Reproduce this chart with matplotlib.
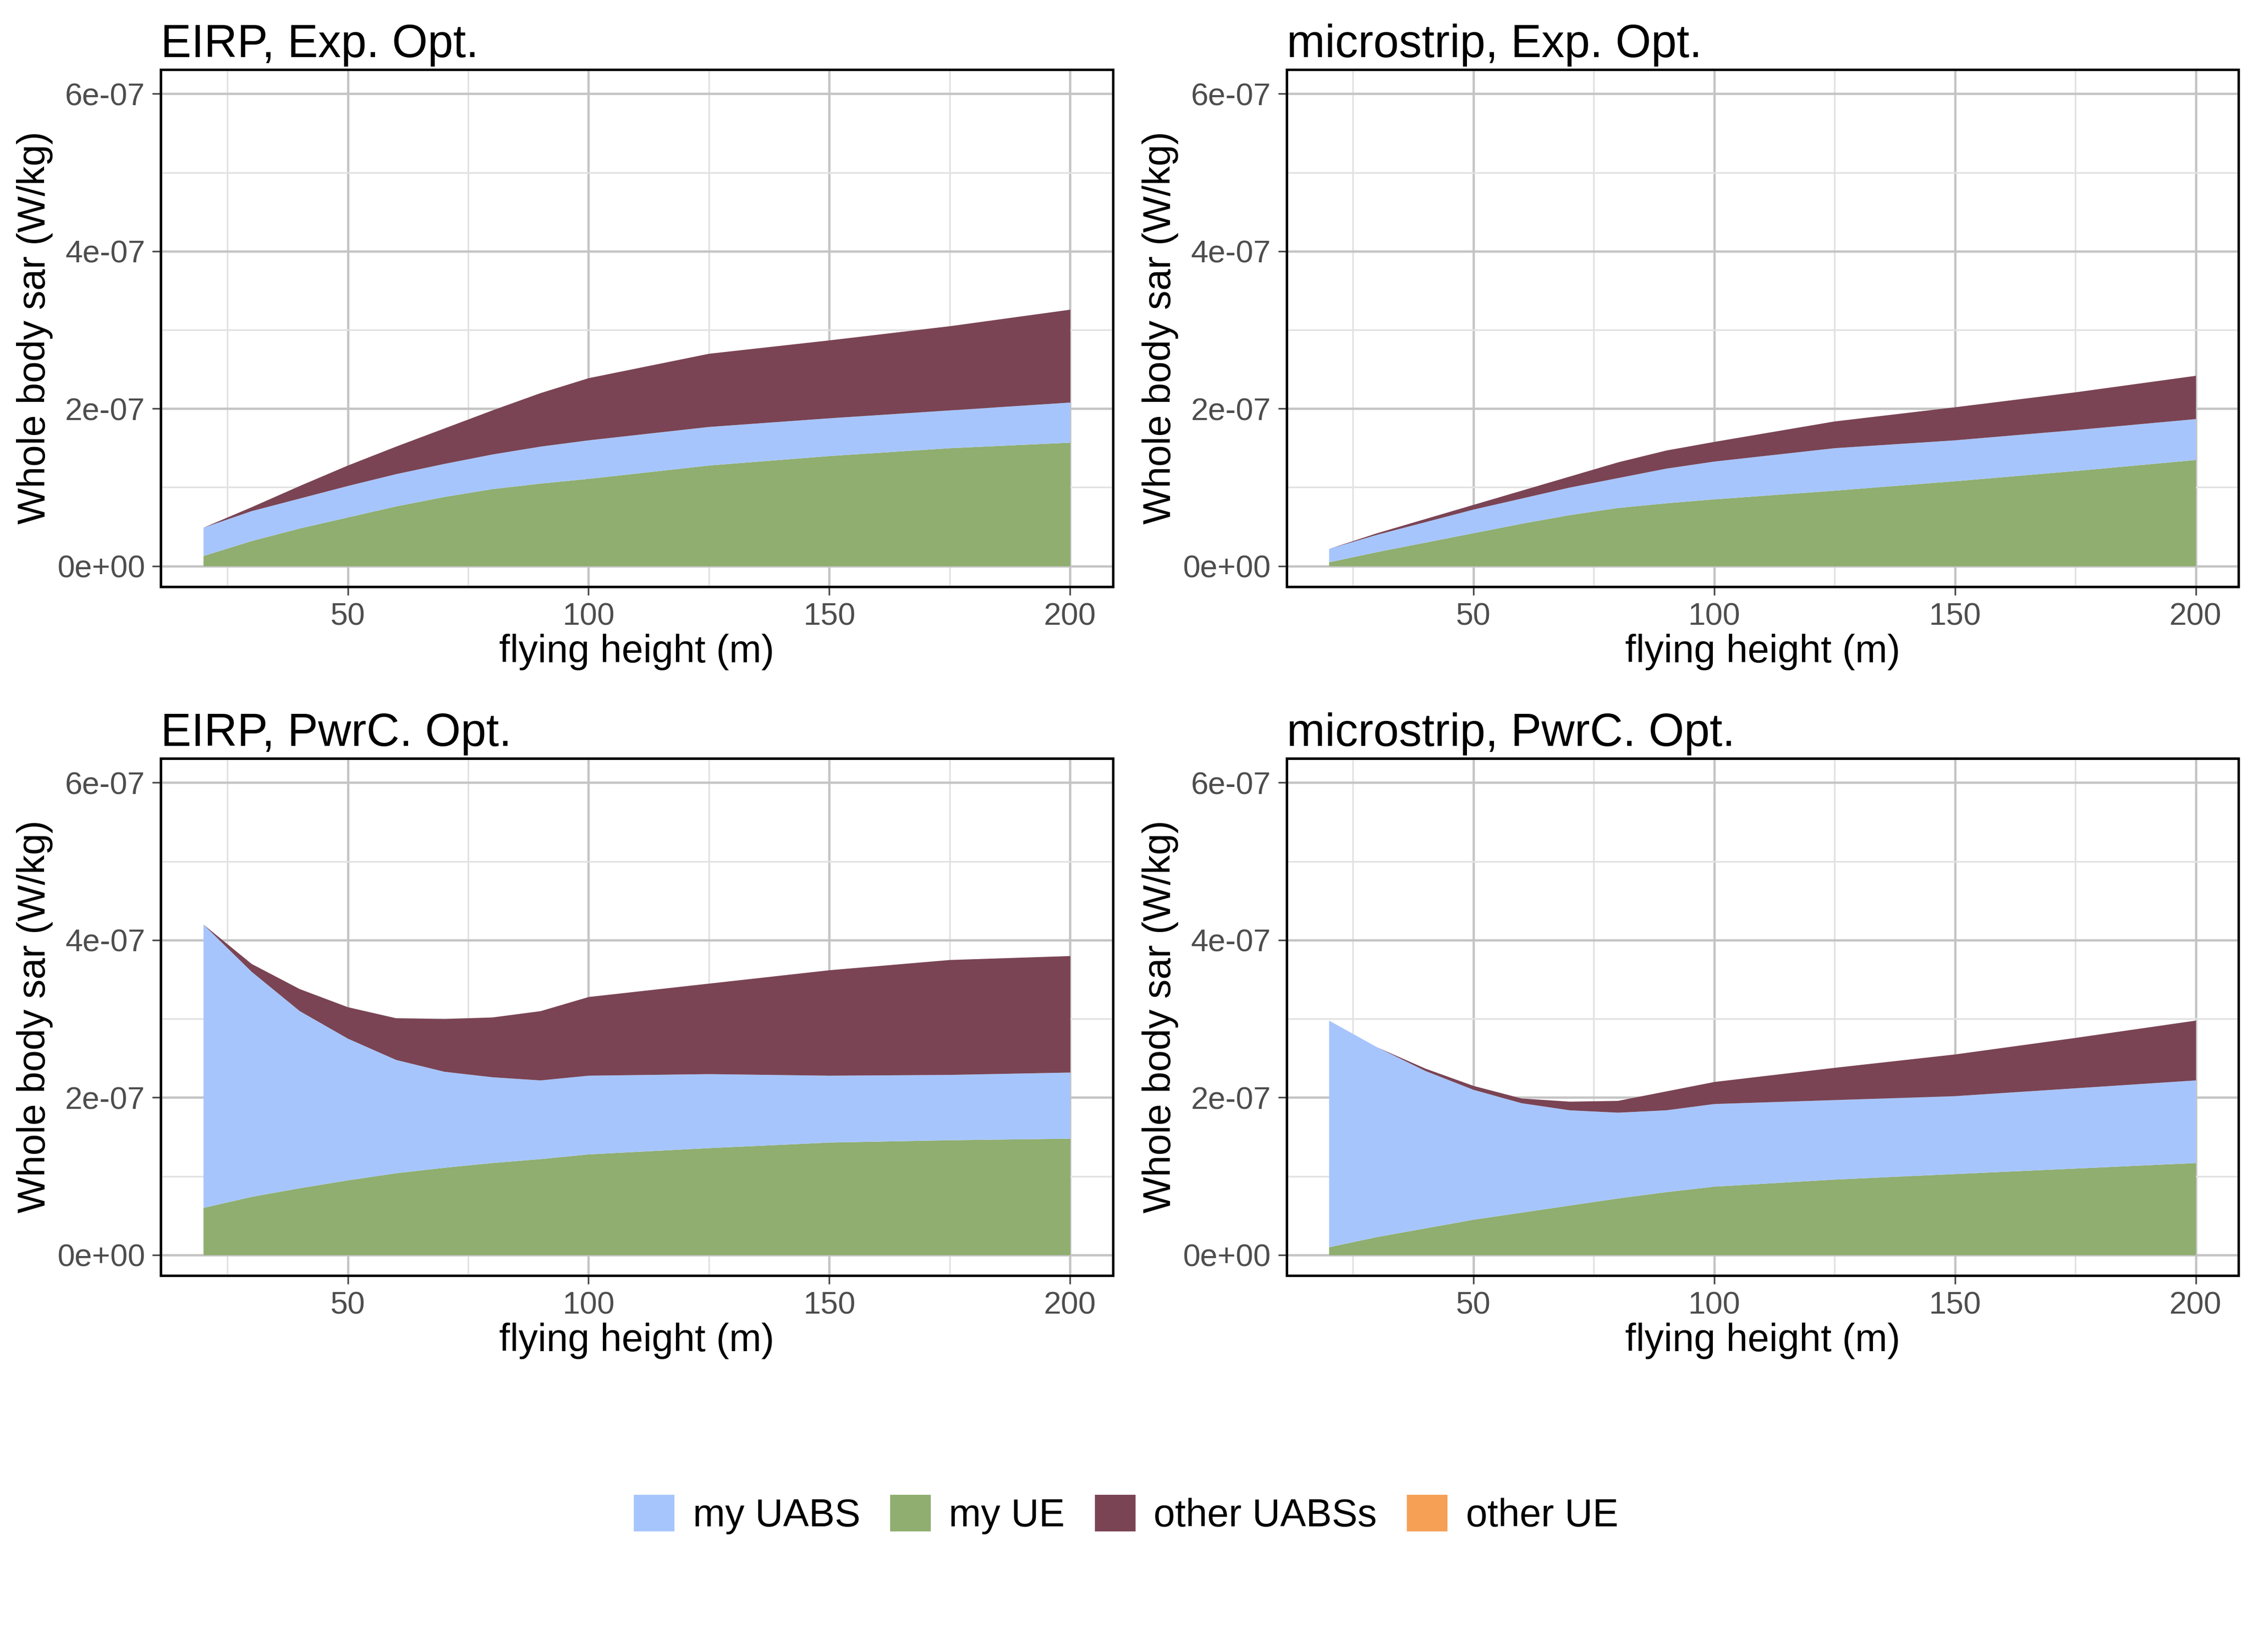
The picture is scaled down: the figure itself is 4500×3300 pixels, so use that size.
import matplotlib.pyplot as plt
import numpy as np
from matplotlib.patches import Patch

plt.rcParams['font.family'] = ['Liberation Sans', 'DejaVu Sans']

heights = [20, 30, 40, 50, 60, 70, 80, 90, 100, 125, 150, 175, 200]

# cumulative tops (x1e-7 W/kg): my UE, my UE + my UABS, + other UABSs
panels = {
    'EIRP, Exp. Opt.': dict(
        ue=[0.13, 0.32, 0.48, 0.62, 0.76, 0.88, 0.98, 1.05, 1.11, 1.28, 1.40, 1.50, 1.57],
        uabs=[0.49, 0.70, 0.86, 1.02, 1.17, 1.30, 1.42, 1.52, 1.60, 1.77, 1.88, 1.98, 2.08],
        other=[0.49, 0.75, 1.02, 1.28, 1.52, 1.75, 1.98, 2.20, 2.39, 2.70, 2.87, 3.05, 3.26],
    ),
    'microstrip, Exp. Opt.': dict(
        ue=[0.05, 0.18, 0.30, 0.42, 0.54, 0.65, 0.74, 0.80, 0.85, 0.96, 1.08, 1.21, 1.35],
        uabs=[0.22, 0.40, 0.56, 0.72, 0.86, 1.00, 1.12, 1.24, 1.33, 1.50, 1.60, 1.73, 1.87],
        other=[0.22, 0.42, 0.60, 0.78, 0.96, 1.14, 1.32, 1.47, 1.58, 1.84, 2.02, 2.21, 2.42],
    ),
    'EIRP, PwrC. Opt.': dict(
        ue=[0.60, 0.74, 0.85, 0.95, 1.04, 1.11, 1.17, 1.22, 1.28, 1.36, 1.43, 1.46, 1.48],
        uabs=[4.20, 3.60, 3.10, 2.75, 2.48, 2.33, 2.26, 2.22, 2.28, 2.30, 2.28, 2.29, 2.32],
        other=[4.20, 3.70, 3.38, 3.15, 3.01, 3.00, 3.02, 3.10, 3.28, 3.45, 3.62, 3.75, 3.80],
    ),
    'microstrip, PwrC. Opt.': dict(
        ue=[0.10, 0.23, 0.34, 0.45, 0.54, 0.63, 0.72, 0.80, 0.87, 0.96, 1.03, 1.10, 1.17],
        uabs=[2.98, 2.64, 2.34, 2.10, 1.93, 1.84, 1.81, 1.84, 1.92, 1.97, 2.02, 2.12, 2.22],
        other=[2.98, 2.64, 2.37, 2.15, 1.99, 1.95, 1.96, 2.08, 2.20, 2.38, 2.55, 2.76, 2.98],
    ),
}

c_uabs, c_ue, c_oabs, c_oue = '#a7c5fd', '#8fae6f', '#7a4454', '#f5a055'

fig = plt.figure(figsize=(15, 11), dpi=300)
boxes = [(0.0714, 0.645), (0.571, 0.645), (0.0714, 0.228), (0.571, 0.228)]
x = np.array(heights)
for (title, d), (l, b) in zip(panels.items(), boxes):
    ax = fig.add_axes([l, b, 0.4226, 0.313])
    ue = np.array(d['ue']) * 1e-7
    ua = np.array(d['uabs']) * 1e-7
    ot = np.array(d['other']) * 1e-7
    ax.fill_between(x, 0, ue, color=c_ue, lw=0, zorder=2)
    ax.fill_between(x, ue, ua, color=c_uabs, lw=0, zorder=2)
    ax.fill_between(x, ua, ot, color=c_oabs, lw=0, zorder=2)
    ax.set_xlim(11.2, 208.9)
    ax.set_ylim(-0.26e-7, 6.31e-7)
    ax.set_xticks([50, 100, 150, 200])
    ax.set_xticks([25, 75, 125, 175], minor=True)
    ax.set_yticks([0, 2e-7, 4e-7, 6e-7])
    ax.set_yticklabels(['0e+00', '2e-07', '4e-07', '6e-07'])
    ax.set_yticks([1e-7, 3e-7, 5e-7], minor=True)
    ax.grid(which='major', color='#c4c4c4', lw=1.1, zorder=0)
    ax.grid(which='minor', color='#e2e2e2', lw=0.8, zorder=0)
    ax.set_axisbelow(True)
    ax.tick_params(which='major', labelsize=15, colors='#4d4d4d', length=4)
    ax.tick_params(which='minor', length=0)
    for s in ax.spines.values():
        s.set_linewidth(1.2)
    ax.set_xlabel('flying height (m)', fontsize=18.5, labelpad=1)
    ax.set_ylabel('Whole body sar (W/kg)', fontsize=18.5, labelpad=2)
    ax.set_title(title, fontsize=22, loc='left', pad=6)

handles = [Patch(color=c_uabs, label='my UABS'), Patch(color=c_ue, label='my UE'),
           Patch(color=c_oabs, label='other UABSs'), Patch(color=c_oue, label='other UE')]
fig.legend(handles=handles, loc='center', bbox_to_anchor=(0.5, 0.083), ncol=4,
           frameon=False, fontsize=18.5, handlelength=1.0, handleheight=1.0,
           columnspacing=0.8, handletextpad=0.5)

fig.savefig('out.png', dpi=300)
